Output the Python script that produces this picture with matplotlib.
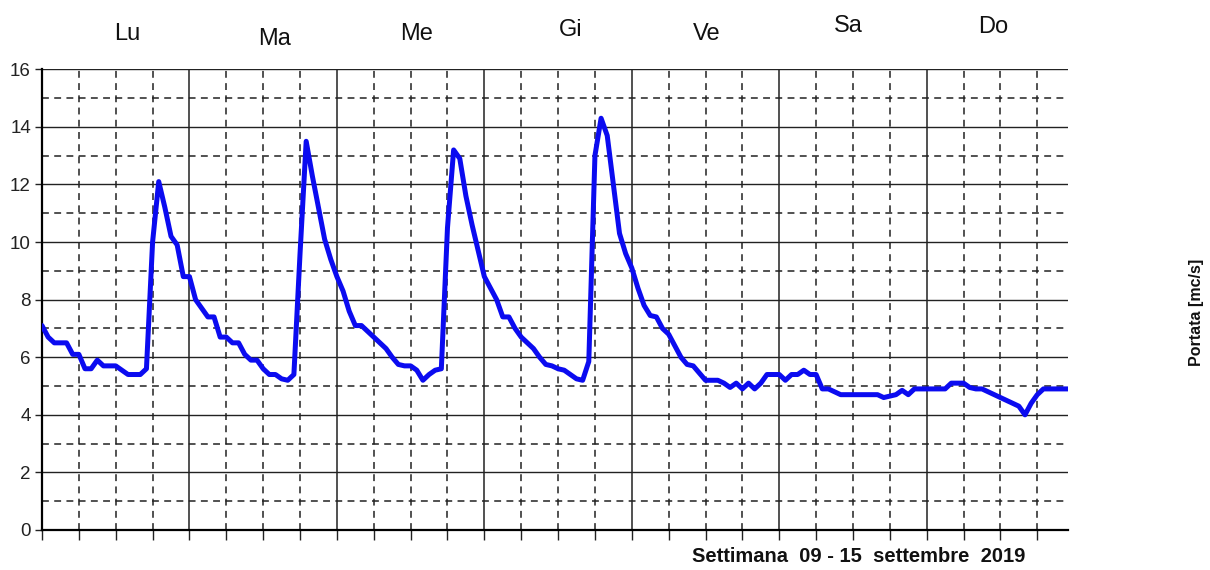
import matplotlib
matplotlib.use("Agg")
import matplotlib.pyplot as plt
import numpy as np

plt.rcParams['font.family'] = ['Liberation Sans', 'DejaVu Sans']

# hourly discharge values (m3/s), 09-15 Sep 2019
portata = [
    7.1, 6.7, 6.5, 6.5, 6.5, 6.1, 6.1, 5.6, 5.6, 5.9, 5.7, 5.7,
    5.7, 5.55, 5.4, 5.4, 5.4, 5.6, 10.0, 12.1, 11.2, 10.2, 9.9, 8.8,
    8.8, 8.0, 7.7, 7.4, 7.4, 6.7, 6.7, 6.5, 6.5, 6.1, 5.9, 5.9,
    5.6, 5.4, 5.4, 5.25, 5.2, 5.4, 9.6, 13.5, 12.3, 11.2, 10.1, 9.4,
    8.8, 8.3, 7.6, 7.1, 7.1, 6.9, 6.7, 6.5, 6.3, 6.0, 5.75, 5.7,
    5.7, 5.55, 5.2, 5.4, 5.55, 5.6, 10.5, 13.2, 12.9, 11.6, 10.6, 9.7,
    8.8, 8.4, 8.0, 7.4, 7.4, 7.0, 6.7, 6.5, 6.3, 6.0, 5.75, 5.7,
    5.6, 5.55, 5.4, 5.25, 5.2, 5.85, 13.0, 14.3, 13.7, 12.0, 10.3, 9.6,
    9.1, 8.4, 7.8, 7.45, 7.4, 7.0, 6.8, 6.4, 6.0, 5.75, 5.7, 5.45,
    5.2, 5.2, 5.2, 5.1, 4.95, 5.1, 4.9, 5.1, 4.9, 5.1, 5.4, 5.4,
    5.4, 5.2, 5.4, 5.4, 5.55, 5.4, 5.4, 4.9, 4.9, 4.8, 4.7, 4.7,
    4.7, 4.7, 4.7, 4.7, 4.7, 4.6, 4.65, 4.7, 4.85, 4.7, 4.9, 4.9,
    4.9, 4.9, 4.9, 4.9, 5.1, 5.1, 5.1, 4.95, 4.9, 4.9, 4.8, 4.7,
    4.6, 4.5, 4.4, 4.3, 4.0, 4.4, 4.7, 4.9, 4.9, 4.9, 4.9, 4.9,
]
ore = list(range(len(portata)))

giorni = ['Lu', 'Ma', 'Me', 'Gi', 'Ve', 'Sa', 'Do']
y_ticks = [0, 2, 4, 6, 8, 10, 12, 14, 16]
titolo_x = 'Settimana  09 - 15  settembre  2019'
titolo_y = 'Portata [mc/s]'

# label placement (style)
giorni_dx = [13.8, 13.8, 12.9, 14.0, 12.2, 11.3, 10.8]
giorni_y = [1.077, 1.066, 1.077, 1.086, 1.077, 1.095, 1.091]

fig = plt.figure(figsize=(12.1, 5.7), dpi=100)
ax = fig.add_axes([42/1210, 1-530/570, (1068-42)/1210, (530-69.3)/570])

ax.set_xlim(0, 167)
ax.set_ylim(0, 16)

# grid
for v in range(0, 17):
    if v % 2 == 0:
        ax.axhline(v, color='#222222', lw=1.0, zorder=1)
    else:
        ax.axhline(v, color='#222222', lw=1.1, ls=(0, (4.5, 3.5)), zorder=1)
for h in range(0, 168, 6):
    if h % 24 == 0:
        ax.axvline(h, color='#222222', lw=1.1, zorder=1)
    else:
        ax.axvline(h, color='#222222', lw=1.1, ls=(0, (4.5, 3.5)), zorder=1)

ax.plot(ore, portata, color='#0b0bf0', lw=3.6, solid_joinstyle='round',
        solid_capstyle='round', zorder=3)

for s in ['top', 'right']:
    ax.spines[s].set_visible(False)
ax.spines['left'].set_linewidth(1.6)
ax.spines['bottom'].set_linewidth(1.6)

ax.set_yticks(y_ticks)
ax.set_yticklabels([str(t) for t in y_ticks], fontsize=13.5, color='#222222')
ax.set_xticks(list(range(0, 168, 6)))
ax.set_xticklabels([])
ax.tick_params(axis='x', length=7, width=1.0, direction='out', color='#222222')
ax.tick_params(axis='y', length=5, width=1.0, direction='out', color='#222222', pad=3)

for i, g in enumerate(giorni):
    ax.text(i*24 + giorni_dx[i], giorni_y[i], g, transform=ax.get_xaxis_transform(),
            ha='center', va='center', fontsize=17, color='#111111')

fig.text(859/1210, 1-557/570, titolo_x, ha='center', va='center',
         fontsize=14.5, fontweight='bold', color='#111111')
fig.text(1197/1210, 1-312/570, titolo_y, ha='center', va='center', rotation=90,
         fontsize=11.5, fontweight='bold', color='#111111')

fig.savefig('out.png', dpi=100)
